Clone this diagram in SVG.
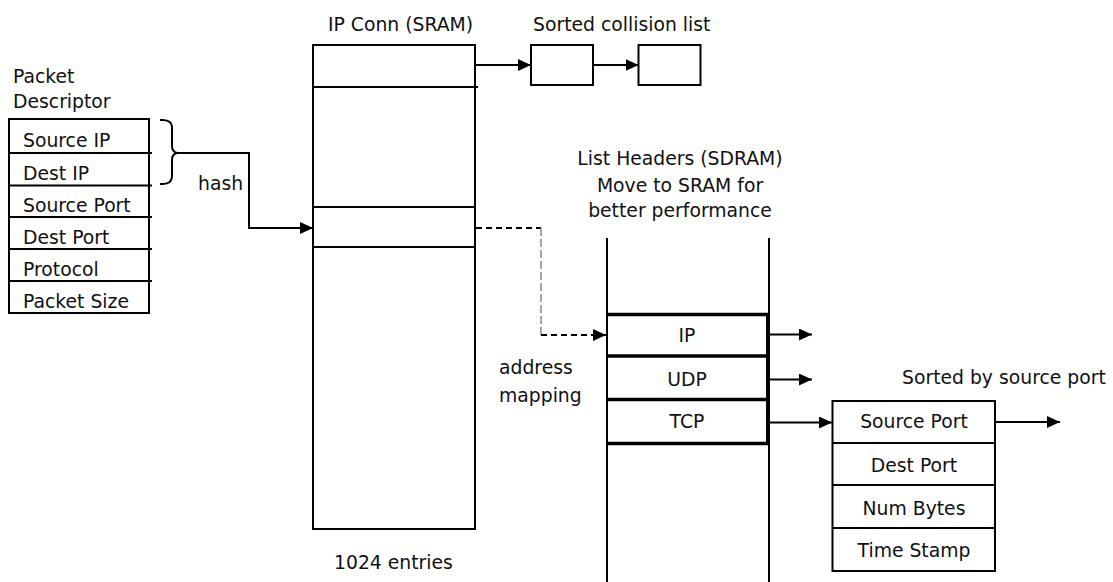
<svg xmlns="http://www.w3.org/2000/svg" width="1113" height="582" viewBox="0 0 1113 582">
<defs>
<style>
text{font-family:"DejaVu Sans","Liberation Sans",sans-serif;font-size:18.8px;fill:#111}
.c{text-anchor:middle}
.b{fill:#fff;stroke:#000;stroke-width:2}
.l{fill:none;stroke:#000;stroke-width:2}
.t{fill:none;stroke:#000;stroke-width:3.5}
</style>
<marker id="ah" markerWidth="13" markerHeight="12" refX="13" refY="6" orient="auto" markerUnits="userSpaceOnUse">
<path d="M0,0 L13,6 L0,12 Z" fill="#000"/>
</marker>
</defs>
<rect width="1113" height="582" fill="#fff"/>

<g id="packet-descriptor">
<text x="13" y="83">Packet</text>
<text x="13" y="108">Descriptor</text>
<rect class="b" x="9" y="119" width="140" height="194"/>
<line class="l" x1="9" y1="153" x2="152" y2="153"/>
<line class="l" x1="9" y1="185.5" x2="152" y2="185.5"/>
<line class="l" x1="9" y1="217" x2="152" y2="217"/>
<line class="l" x1="9" y1="249" x2="152" y2="249"/>
<line class="l" x1="9" y1="281" x2="152" y2="281"/>
<text x="23" y="147">Source IP</text>
<text x="23" y="180">Dest IP</text>
<text x="23" y="212">Source Port</text>
<text x="23" y="244">Dest Port</text>
<text x="23" y="276">Protocol</text>
<text x="23" y="308">Packet Size</text>
</g>

<g id="brace">
<path class="l" d="M160,120 Q172,119 172,128 L172,146 Q172,152 177,153 Q172,154 172,160 L172,176 Q172,185 160,184"/>
</g>

<g id="ip-conn">
<text x="328" y="31">IP Conn (SRAM)</text>
<rect class="b" x="313" y="45" width="162" height="484"/>
<line class="l" x1="313" y1="87" x2="478" y2="87"/>
<line class="l" x1="313" y1="207" x2="475" y2="207"/>
<line class="l" x1="313" y1="247" x2="475" y2="247"/>
<text x="334" y="569">1024 entries</text>
</g>

<g id="collision-list">
<text x="533" y="31">Sorted collision list</text>
<rect class="b" x="531" y="45" width="62" height="40"/>
<rect class="b" x="638.5" y="45" width="62" height="40"/>
</g>

<g id="list-headers">
<text class="c" x="680" y="165">List Headers (SDRAM)</text>
<text class="c" x="680" y="191.5">Move to SRAM for</text>
<text class="c" x="680" y="216.5">better performance</text>
<line class="l" x1="607" y1="238" x2="607" y2="582"/>
<line class="l" x1="769" y1="238" x2="769" y2="582"/>
<line class="t" x1="607" y1="314.5" x2="768" y2="314.5"/>
<line class="t" x1="607" y1="356" x2="768" y2="356"/>
<line class="t" x1="607" y1="399.5" x2="768" y2="399.5"/>
<line class="t" x1="607" y1="443.5" x2="768" y2="443.5"/>
<line x1="767.5" y1="313" x2="767.5" y2="445" stroke="#000" stroke-width="3"/>
<text class="c" x="687" y="342">IP</text>
<text class="c" x="687" y="386">UDP</text>
<text class="c" x="687" y="428">TCP</text>
</g>

<g id="flow-table">
<text x="902" y="384">Sorted by source port</text>
<rect class="b" x="832.5" y="401" width="162.5" height="170"/>
<line class="l" x1="832.5" y1="443" x2="995" y2="443"/>
<line class="l" x1="832.5" y1="485" x2="995" y2="485"/>
<line class="l" x1="832.5" y1="528" x2="995" y2="528"/>
<text class="c" x="914" y="428">Source Port</text>
<text class="c" x="914" y="471.5">Dest Port</text>
<text class="c" x="914" y="514.5">Num Bytes</text>
<text class="c" x="914" y="556.5">Time Stamp</text>
</g>

<g id="labels">
<text x="198" y="190">hash</text>
<text x="499" y="374">address</text>
<text x="499" y="401.5">mapping</text>
</g>

<g id="connectors">
<polyline class="l" points="177,153 249,153 249,228 313,228" marker-end="url(#ah)"/>
<line class="l" x1="476" y1="65" x2="531" y2="65" marker-end="url(#ah)"/>
<line class="l" x1="594" y1="65" x2="638.5" y2="65" marker-end="url(#ah)"/>
<line class="l" x1="476" y1="228" x2="541" y2="228" stroke-dasharray="6,4"/>
<line x1="541" y1="228" x2="541" y2="335" stroke="#888" stroke-width="1.5" stroke-dasharray="8,3" fill="none"/>
<line class="l" x1="541" y1="335" x2="606" y2="335" stroke-dasharray="6,4" marker-end="url(#ah)"/>
<line class="l" x1="770" y1="334.5" x2="812" y2="334.5" marker-end="url(#ah)"/>
<line class="l" x1="770" y1="379.5" x2="812" y2="379.5" marker-end="url(#ah)"/>
<line class="l" x1="770" y1="422.5" x2="832" y2="422.5" marker-end="url(#ah)"/>
<line class="l" x1="996" y1="422" x2="1060" y2="422" marker-end="url(#ah)"/>
</g>
</svg>
